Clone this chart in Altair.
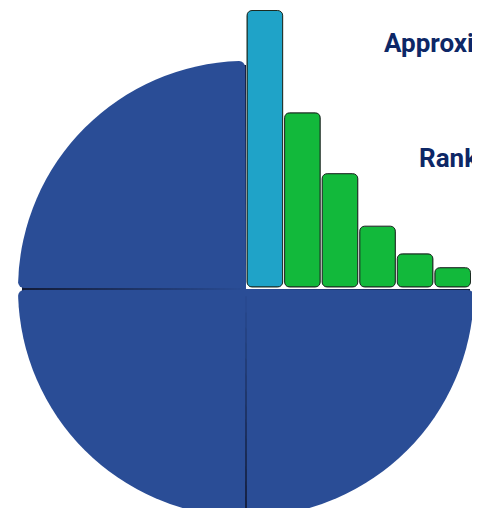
import altair as alt
import pandas as pd

# Three filled quadrants of the circle (top-right quadrant holds the bars)
quadrant_names = ["bottom-right", "bottom-left", "top-left"]
quadrant_share = [1, 1, 1]

# Bars in the top-right quadrant
bar_labels = ["B1", "B2", "B3", "B4", "B5", "B6"]
bar_values = [100, 63, 41, 22, 12, 7]
bar_groups = ["highlight", "rest", "rest", "rest", "rest", "rest"]

# Headings (cut off at the right edge in the original)
heading_texts = ["Approximate", "Ranked"]

quad_df = pd.DataFrame({"name": quadrant_names, "share": quadrant_share,
                        "order": list(range(len(quadrant_names)))})
bar_df = pd.DataFrame({"label": bar_labels, "value": bar_values, "group": bar_groups})
head_df = pd.DataFrame({"text": heading_texts, "row": [0, 1]})

BLUE = "#2a4d96"
CYAN = "#1fa3c8"
GREEN = "#12b93b"
NAVY = "#0d2766"
SEAM = "#131c38"

FONT = "Roboto, sans-serif"

cx, cy, R = 238, 281, 228

theta_enc = alt.Theta("share:Q", stack=True,
                      scale=alt.Scale(domain=[0, 3], range=[1.5707963, 6.2831853]))

# dark layer that shows through the seams between the quadrants
seams = alt.Chart(quad_df).mark_arc(fill=SEAM).encode(
    theta=theta_enc, order=alt.Order("order:Q"),
    x=alt.value(cx), y=alt.value(cy), radius=alt.value(R - 4),
)

arcs = alt.Chart(quad_df).mark_arc(
    cornerRadius=6, padAngle=0.008, fill=BLUE
).encode(
    theta=theta_enc, order=alt.Order("order:Q"),
    x=alt.value(cx), y=alt.value(cy), radius=alt.value(R),
)

bars = alt.Chart(bar_df).mark_bar(
    cornerRadius=5, stroke="#1b2b22", strokeWidth=1
).encode(
    x=alt.X("label:N", sort=None, axis=None,
            scale=alt.Scale(range=[239, 462.5], paddingInner=0.05, paddingOuter=0)),
    y=alt.Y("value:Q", axis=None, scale=alt.Scale(domain=[0, 100], range=[279, 2.5])),
    color=alt.Color("group:N", legend=None,
                    scale=alt.Scale(domain=["highlight", "rest"], range=[CYAN, GREEN])),
)

h1 = alt.Chart(head_df).transform_filter("datum.row == 0").mark_text(
    align="left", baseline="alphabetic", font=FONT,
    fontWeight="bold", fontSize=26, color=NAVY
).encode(text="text:N", x=alt.value(376), y=alt.value(44))

h2 = alt.Chart(head_df).transform_filter("datum.row == 1").mark_text(
    align="left", baseline="alphabetic", font=FONT,
    fontWeight="bold", fontSize=26, color=NAVY
).encode(text="text:N", x=alt.value(411), y=alt.value(159))

chart = alt.layer(seams, arcs, bars, h1, h2).properties(
    width=464, height=500, autosize=alt.AutoSizeParams(type="none"), padding=0
).configure_view(stroke=None)

chart.save("out.html", embed_options={"renderer": "svg", "actions": False})
